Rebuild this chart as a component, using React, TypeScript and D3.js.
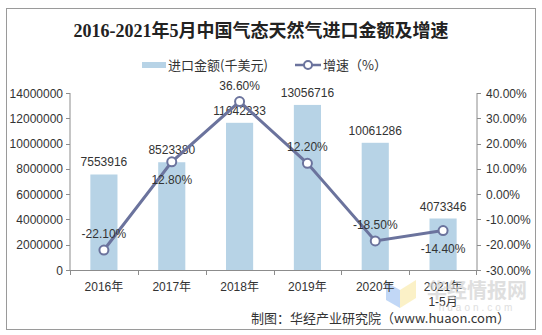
import React from "react";
import * as d3 from "d3";

const categories = ["2016年", "2017年", "2018年", "2019年", "2020年", "2021年|1-5月"];
const amounts = [7553916, 8523380, 11642233, 13056716, 10061286, 4073346];
const growth = [-22.1, 12.8, 36.6, 12.2, -18.5, -14.4];
const growthLabelBelow = [false, true, false, false, false, true];
const leftTicks = [0, 2000000, 4000000, 6000000, 8000000, 10000000, 12000000, 14000000];
const rightTicks = [-30, -20, -10, 0, 10, 20, 30, 40];

const W = 542, H = 335;
const plot = { left: 70, right: 477, top: 93, bottom: 270 };
const BAR = "#b7d3e6";
const LINE = "#6b739d";
const AXIS = "#8c8c8c";
const TXT = "#333";
const SANS = "Arial, 'Liberation Sans', 'Noto Sans CJK SC', sans-serif";
const CJK = "'Noto Sans CJK SC', sans-serif";
const FS = 12;

export default function App() {
  const outer = d3.scaleBand<string>().domain(categories).range([plot.left, plot.right]);
  const yL = d3.scaleLinear().domain([0, 14000000]).range([plot.bottom, plot.top]);
  const yR = d3.scaleLinear().domain([-30, 40]).range([plot.bottom, plot.top]);
  const cx = (c: string) => (outer(c) as number) + outer.bandwidth() / 2;
  const line = d3.line<number>().x((_, i) => cx(categories[i])).y((d) => yR(d));
  const bw = outer.bandwidth() * 0.4;

  return (
    <svg width={W} height={H} style={{ position: "absolute", left: 0, top: 0 }}>
      <rect x={0} y={0} width={W} height={H} fill="#fff" />
      <rect x={6.5} y={8.5} width={529} height={321} fill="none" stroke="#9a9a9a" />
      <text x={261} y={37} textAnchor="middle" fontSize={18} fontWeight="bold" fill="#222"
        fontFamily="'Liberation Serif', 'Noto Sans CJK SC', serif">2016-2021年5月中国气态天然气进口金额及增速</text>
      {/* legend */}
      <rect x={142} y={62} width={24} height={6} fill={BAR} />
      <text x={168} y={70} fontSize={13} fill={TXT} fontFamily={CJK}>进口金额(千美元)</text>
      <line x1={295} x2={321} y1={65} y2={65} stroke={LINE} strokeWidth={2.5} />
      <circle cx={308} cy={65} r={4} fill="#fff" stroke={LINE} strokeWidth={2} />
      <text x={323} y={70} fontSize={13} fill={TXT} fontFamily={CJK}>增速（%）</text>

      {/* watermark logo */}
      <g opacity={0.55}>
        <polygon points="386,282 400,290 400,308 386,300" fill="#8fb8f0" />
        <polygon points="400,290 416,280 416,298 400,308" fill="#f8e79a" />
      </g>

      {/* bars */}
      {amounts.map((v, i) => {
        const c = categories[i];
        return (
          <g key={c}>
            <rect x={cx(c) - bw / 2} y={yL(v)} width={bw} height={plot.bottom - yL(v)} fill={BAR} />
            <text x={cx(c)} y={yL(v) - 8} textAnchor="middle" fontSize={FS} fill={TXT} fontFamily={SANS}>{v}</text>
          </g>
        );
      })}

      {/* axes */}
      <line x1={plot.left} x2={plot.left} y1={plot.top} y2={plot.bottom} stroke={AXIS} />
      <line x1={plot.right} x2={plot.right} y1={plot.top} y2={plot.bottom} stroke={AXIS} />
      <line x1={plot.left} x2={plot.right} y1={plot.bottom + 0.5} y2={plot.bottom + 0.5} stroke={AXIS} />
      {leftTicks.map((t) => (
        <g key={t}>
          <line x1={plot.left - 4} x2={plot.left} y1={Math.round(yL(t)) + 0.5} y2={Math.round(yL(t)) + 0.5} stroke={AXIS} />
          <text x={plot.left - 7} y={yL(t) + 4.5} textAnchor="end" fontSize={FS} fill={TXT} fontFamily={SANS}>{t}</text>
        </g>
      ))}
      {rightTicks.map((t) => (
        <g key={t}>
          <line x1={plot.right} x2={plot.right + 4} y1={Math.round(yR(t)) + 0.5} y2={Math.round(yR(t)) + 0.5} stroke={AXIS} />
          <text x={plot.right + 9} y={yR(t) + 4.5} textAnchor="start" fontSize={FS} fill={TXT} fontFamily={SANS}>{t.toFixed(2)}%</text>
        </g>
      ))}
      {categories.map((c) => (
        <line key={c} x1={Math.round(outer(c) as number) + 0.5} x2={Math.round(outer(c) as number) + 0.5} y1={plot.bottom} y2={plot.bottom + 5} stroke={AXIS} />
      ))}
      <line x1={plot.right - 0.5} x2={plot.right - 0.5} y1={plot.bottom} y2={plot.bottom + 5} stroke={AXIS} />
      {categories.map((c) => {
        const parts = c.split("|");
        return (
          <text key={c} x={cx(c)} y={291} textAnchor="middle" fontSize={FS} fill={TXT} fontFamily={SANS}>
            {parts.map((p, j) => (
              <tspan key={j} x={cx(c)} dy={j === 0 ? 0 : 15}>{p}</tspan>
            ))}
          </text>
        );
      })}

      {/* line */}
      <path d={line(growth) as string} fill="none" stroke={LINE} strokeWidth={3} />
      {growth.map((g, i) => (
        <g key={i}>
          <circle cx={cx(categories[i])} cy={yR(g)} r={4.5} fill="#fff" stroke={LINE} strokeWidth={2} />
          <text x={cx(categories[i])} y={growthLabelBelow[i] ? yR(g) + 22 : yR(g) - 12} textAnchor="middle" fontSize={FS} fill={TXT} fontFamily={SANS}>{g.toFixed(2)}%</text>
        </g>
      ))}

      {/* watermark text */}
      <text x={477} y={298} textAnchor="middle" fontSize={20} fontWeight="bold" fill="#d2d2d2" opacity={0.7} fontFamily={CJK}>华经情报网</text>
      <text x={477} y={311} textAnchor="middle" fontSize={10} letterSpacing={3} fill="#d2d2d2" opacity={0.7} fontFamily={SANS}>huaon.com</text>

      <text x={510} y={323} textAnchor="end" fontSize={13} fill={TXT} fontFamily={CJK}>制图：华经产业研究院（www.huaon.com）</text>
    </svg>
  );
}
